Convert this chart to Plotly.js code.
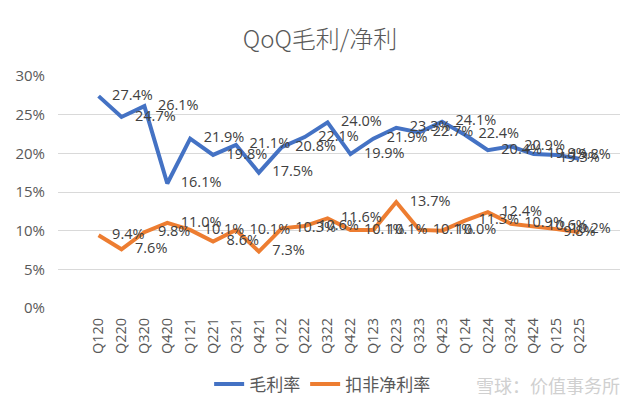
<!DOCTYPE html>
<html>
<head>
<meta charset="utf-8">
<script src="https://cdn.plot.ly/plotly-3.0.1.min.js"></script>
<style>
html,body{margin:0;padding:0;background:#fff;}
#chart{width:640px;height:417px;outline:2px solid #d6d6d6;outline-offset:-2px;}
</style>
</head>
<body>
<div id="chart"></div>
<script>
const quarters = ["Q120","Q220","Q320","Q420","Q121","Q221","Q321","Q421","Q122","Q222","Q322","Q422","Q123","Q223","Q323","Q423","Q124","Q224","Q324","Q424","Q125","Q225"];
const grossMargin = [27.4,24.7,26.1,16.1,21.9,19.8,21.1,17.5,20.8,22.1,24.0,19.9,21.9,23.3,22.7,24.1,22.4,20.4,20.9,19.9,19.8,19.3];
const netMargin = [9.4,7.6,9.8,11.0,10.1,8.6,10.1,7.3,10.3,10.6,11.6,10.1,10.1,13.7,10.1,10.0,11.3,12.4,10.9,10.6,10.2,9.8];
const yTicks = [0,5,10,15,20,25,30];
const seriesNames = ["毛利率","扣非净利率"];

const fontFam = '"Open Sans","Noto Sans CJK SC",sans-serif';
const cjkFam = '"Noto Sans CJK SC","Open Sans",sans-serif';
function positions(n){
  const p = [];
  for(let i=0;i<n;i++) p.push(i===n-1 ? 'middle center' : 'middle right');
  return p;
}
function lineTrace(vals, name, color){
  return {
    x: quarters, y: vals, name: name, type: 'scatter', mode: 'lines',
    line: {color: color, width: 4}, hoverinfo: 'skip'
  };
}
function labelTrace(vals, color){
  return {
    x: quarters, y: vals, type: 'scatter', mode: 'markers+text', showlegend: false,
    marker: {size: 20, opacity: 0, color: color},
    text: vals.map(v => v.toFixed(1) + '%'),
    textposition: positions(vals.length),
    textfont: {family: fontFam, size: 14.5, color: '#404040'},
    cliponaxis: false, hoverinfo: 'skip'
  };
}
const data = [
  lineTrace(grossMargin, seriesNames[0], '#4472C4'),
  lineTrace(netMargin, seriesNames[1], '#ED7D31'),
  labelTrace(grossMargin, '#4472C4'),
  labelTrace(netMargin, '#ED7D31')
];
const layout = {
  width: 640, height: 417,
  margin: {l: 58, r: 20, t: 76, b: 109},
  paper_bgcolor: '#fff', plot_bgcolor: '#fff',
  title: {text: 'QoQ毛利/净利', x: 0.5, xref: 'container', y: 0.905, yanchor: 'middle',
          font: {family: cjkFam, size: 24, color: '#595959', weight: 300}},
  xaxis: {type: 'category', tickangle: -90, showgrid: false, zeroline: false,
          showline: false, ticks: '', ticklabelstandoff: 6,
          tickfont: {family: fontFam, size: 14.5, color: '#595959'}},
  yaxis: {range: [0, 30], tickvals: yTicks, ticktext: yTicks.map(v => v + '%'),
          gridcolor: '#d9d9d9', gridwidth: 1, zeroline: false, showline: false,
          ticklabelstandoff: 12,
          tickfont: {family: fontFam, size: 15, color: '#595959'}},
  showlegend: true,
  legend: {orientation: 'h', x: 0.47, xanchor: 'center', y: -0.33, yanchor: 'middle',
           font: {family: cjkFam, size: 17, color: '#595959'}},
  annotations: [{
    text: '雪球：价值事务所', xref: 'paper', yref: 'paper', x: 1.004, y: -0.33,
    xanchor: 'right', yanchor: 'middle', showarrow: false,
    font: {family: cjkFam, size: 18, color: '#d0d0d0'}
  }]
};
Plotly.newPlot('chart', data, layout, {displayModeBar: false, staticPlot: true});
</script>
</body>
</html>
